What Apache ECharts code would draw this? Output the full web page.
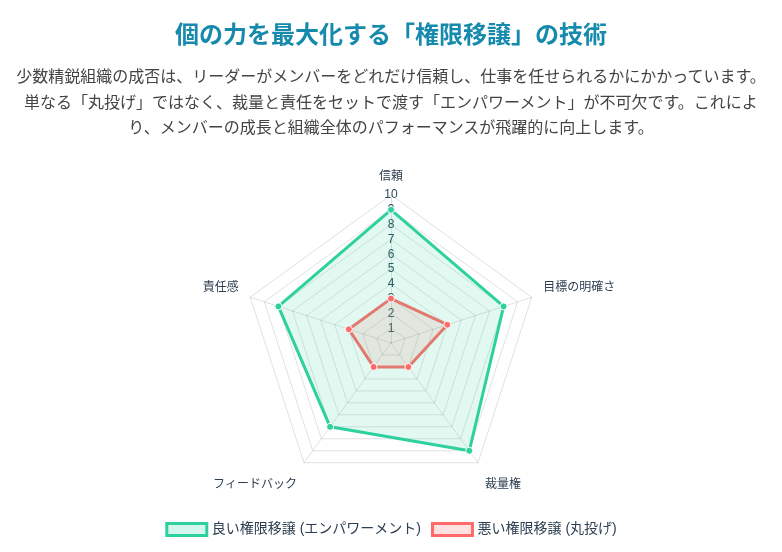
<!DOCTYPE html>
<html>
<head>
<meta charset="utf-8">
<script src="https://cdn.jsdelivr.net/npm/echarts@6/dist/echarts.min.js"></script>
<style>
  html, body { margin:0; padding:0; background:#fff; width:782px; height:552px; overflow:hidden; }
  body { font-family: 'Noto Sans CJK JP', 'Noto Sans', sans-serif; position:relative; }
  #chart { position:absolute; left:0; top:0; width:782px; height:552px; }
  #title { position:absolute; left:0; top:15px; width:782px; text-align:center; font-size:24px; line-height:36px; font-weight:bold; color:#168aad; margin:0; }
  #desc { position:absolute; left:0; top:63px; width:782px; text-align:center; font-size:16px; line-height:25.6px; color:#444; margin:0; }
</style>
</head>
<body>
<div id="chart"></div>
<h1 id="title">個の力を最大化する「権限移譲」の技術</h1>
<p id="desc">少数精鋭組織の成否は、リーダーがメンバーをどれだけ信頼し、仕事を任せられるかにかかっています。<br>単なる「丸投げ」ではなく、裁量と責任をセットで渡す「エンパワーメント」が不可欠です。これによ<br>り、メンバーの成長と組織全体のパフォーマンスが飛躍的に向上します。</p>
<script>
const indicators = ['信頼', '目標の明確さ', '裁量権', 'フィードバック', '責任感'];
const goodName = '良い権限移譲 (エンパワーメント)';
const badName = '悪い権限移譲 (丸投げ)';
const goodValues = [9, 8, 9, 7, 8];
const badValues = [3, 4, 2, 2, 3];
const scaleMax = 10;
const scaleSteps = 10;

const GREEN = '#2ed19e';
const GREEN_FILL = 'rgba(46,209,158,0.2)';
const RED = '#ff6b6b';
const RED_FILL = 'rgba(255,107,107,0.2)';
const FONT = "'Helvetica Neue', Helvetica, Arial, 'Noto Sans CJK JP', sans-serif";

// ECharts places indicators counter-clockwise; reorder so they read clockwise like the reference
const order = [0].concat(indicators.map((_, i) => i).slice(1).reverse());
const reorder = arr => order.map(i => arr[i]);

// vertical nudges of the axis names (via blank lines), index in original order
const namePrefix = ['', '', '\n\n', '\n\n', ''];
const nameSuffix = ['', '\n', '', '', '\n'];

const indicatorOpts = order.map((srcIdx, i) => {
  const o = { name: indicators[srcIdx], max: scaleMax, min: 0 };
  if (i === 0) {
    o.axisLabel = {
      show: true, showMinLabel: false, margin: 0,
      align: 'center', verticalAlign: 'middle',
      color: '#2c4a5a', fontSize: 12, fontFamily: FONT
    };
  }
  return o;
});

const chart = echarts.init(document.getElementById('chart'), null, { renderer: 'canvas' });
chart.setOption({
  animation: false,
  legend: {
    data: [
      { name: goodName, icon: 'rect', itemStyle: { color: GREEN_FILL, borderColor: GREEN, borderWidth: 3 } },
      { name: badName, icon: 'rect', itemStyle: { color: RED_FILL, borderColor: RED, borderWidth: 3 } }
    ],
    left: 'center',
    top: 517,
    itemWidth: 40,
    itemHeight: 12,
    itemGap: 10,
    textStyle: { color: '#2c3e50', fontSize: 14, fontFamily: FONT }
  },
  radar: {
    center: [391, 343],
    radius: 148,
    splitNumber: scaleSteps,
    shape: 'polygon',
    nameGap: 12,
    axisName: {
      color: '#2c3e50', fontSize: 12, lineHeight: 12, fontFamily: FONT,
      formatter: function (name) {
        const k = indicators.indexOf(name);
        return k < 0 ? name : namePrefix[k] + name + nameSuffix[k];
      }
    },
    axisLine: { lineStyle: { color: 'rgba(0,0,0,0.12)', width: 1 } },
    splitLine: { lineStyle: { color: 'rgba(0,0,0,0.12)', width: 1 } },
    splitArea: { show: false },
    axisLabel: { show: false },
    indicator: indicatorOpts
  },
  series: [{
    type: 'radar',
    symbol: 'circle',
    symbolSize: 7,
    data: [
      {
        name: badName, value: reorder(badValues),
        lineStyle: { color: RED, width: 3 },
        areaStyle: { color: RED_FILL },
        itemStyle: { color: RED, borderColor: '#fff', borderWidth: 1 }
      },
      {
        name: goodName, value: reorder(goodValues),
        lineStyle: { color: GREEN, width: 3 },
        areaStyle: { color: GREEN_FILL },
        itemStyle: { color: GREEN, borderColor: '#fff', borderWidth: 1 }
      }
    ]
  }]
});
</script>
</body>
</html>
